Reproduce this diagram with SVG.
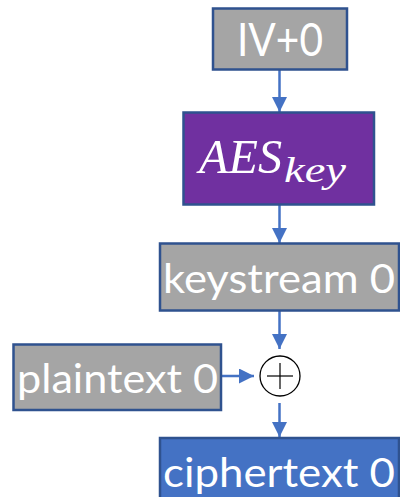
<svg xmlns="http://www.w3.org/2000/svg" width="400" height="497" viewBox="0 0 400 497">
<style>
.box{stroke:#2F528F;stroke-width:2.5}
.gray{fill:#A5A5A5}
.lbl{font-family:Lato,"Open Sans","Liberation Sans",sans-serif;fill:#ffffff}
.conn{stroke:#4472C4;stroke-width:2.5;fill:none}
</style>
<defs>
<marker id="ah" viewBox="0 0 10 10" refX="10" refY="5" markerWidth="6" markerHeight="6" markerUnits="strokeWidth" orient="auto">
<path d="M0,0 L10,5 L0,10 z" fill="#4472C4"/>
</marker>
</defs>
<rect width="400" height="497" fill="#ffffff"/>
<g id="connectors">
<line class="conn" x1="279.5" y1="69" x2="279.5" y2="112" marker-end="url(#ah)"/>
<line class="conn" x1="279.5" y1="205" x2="279.5" y2="243" marker-end="url(#ah)"/>
<line class="conn" x1="279.5" y1="311" x2="279.5" y2="349" marker-end="url(#ah)"/>
<line class="conn" x1="221" y1="376" x2="254" y2="376" marker-end="url(#ah)"/>
<line class="conn" x1="279.5" y1="403" x2="279.5" y2="437" marker-end="url(#ah)"/>
</g>
<g id="iv">
<rect class="box gray" x="213" y="8.5" width="134" height="61"/>
<text class="lbl" x="280" y="56" font-size="46" text-anchor="middle" textLength="86" lengthAdjust="spacingAndGlyphs">IV+0</text>
</g>
<g id="aes">
<rect class="box" fill="#7030A0" x="183.5" y="112.5" width="190.5" height="92"/>
<text x="199" y="173" font-family="'Liberation Serif','DejaVu Serif',serif" font-style="italic" fill="#ffffff" font-size="48" textLength="83" lengthAdjust="spacingAndGlyphs">AES</text>
<text x="284" y="182" font-family="'Liberation Serif','DejaVu Serif',serif" font-style="italic" fill="#ffffff" font-size="36" textLength="62" lengthAdjust="spacingAndGlyphs">key</text>
</g>
<g id="keystream">
<rect class="box gray" x="160" y="243.5" width="239" height="67"/>
<text class="lbl" x="163" y="293" font-size="40" textLength="232" lengthAdjust="spacingAndGlyphs">keystream 0</text>
</g>
<g id="xor">
<circle cx="280" cy="376" r="20" fill="#ffffff" stroke="#000000" stroke-width="1.3"/>
<line x1="267" y1="376" x2="293" y2="376" stroke="#000000" stroke-width="1.2"/>
<line x1="280" y1="363" x2="280" y2="389" stroke="#000000" stroke-width="1.2"/>
</g>
<g id="plaintext">
<rect class="box gray" x="13.5" y="344.5" width="207.5" height="65.5"/>
<text class="lbl" x="17" y="393" font-size="40" textLength="201" lengthAdjust="spacingAndGlyphs">plaintext 0</text>
</g>
<g id="ciphertext">
<rect class="box" fill="#4472C4" x="160" y="438" width="239" height="70"/>
<text class="lbl" x="163" y="487" font-size="40" textLength="232" lengthAdjust="spacingAndGlyphs">ciphertext 0</text>
</g>
</svg>
